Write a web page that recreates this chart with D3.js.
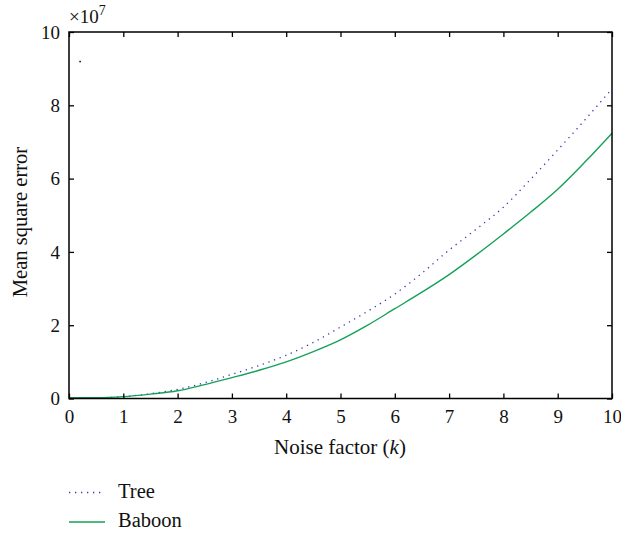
<!DOCTYPE html>
<html>
<head>
<meta charset="utf-8">
<script src="https://cdn.jsdelivr.net/npm/d3@7"></script>
<style>
body { margin: 0; background: #fff; }
svg text { font-family: "Liberation Serif", "DejaVu Serif", serif; fill: #111; }
</style>
</head>
<body>
<svg id="chart" width="621" height="535"></svg>
<script>
const kValues = [0, 0.5, 1, 1.5, 2, 2.5, 3, 3.5, 4, 4.5, 5, 5.5, 6, 6.5, 7, 7.5, 8, 8.5, 9, 9.5, 10];
const treeMSE = [0, 0.01, 0.05, 0.13, 0.25, 0.43, 0.66, 0.9, 1.18, 1.53, 1.95, 2.38, 2.85, 3.42, 4.05, 4.62, 5.22, 5.98, 6.78, 7.6, 8.45];
const baboonMSE = [0.02, 0.02, 0.05, 0.12, 0.21, 0.38, 0.57, 0.77, 1.0, 1.28, 1.6, 2.0, 2.45, 2.9, 3.38, 3.92, 4.49, 5.08, 5.71, 6.45, 7.24];
const xTicks = [0, 1, 2, 3, 4, 5, 6, 7, 8, 9, 10];
const yTicks = [0, 2, 4, 6, 8, 10];
const seriesNames = ["Tree", "Baboon"];

const svg = d3.select("#chart");
const L = 69, R = 612, T = 32, B = 398.5;
const x = d3.scaleLinear().domain([0, 10]).range([L, R]);
const y = d3.scaleLinear().domain([0, 10]).range([B, T]);

const line = d3.line().curve(d3.curveMonotoneX).x(d => x(d[0])).y(d => y(d[1]));
const treeData = kValues.map((k, i) => [k, treeMSE[i]]);
const babData = kValues.map((k, i) => [k, baboonMSE[i]]);

svg.append("path").datum(treeData).attr("d", line)
  .attr("fill", "none").attr("stroke", "#3b3bb0").attr("stroke-width", 1.3)
  .attr("stroke-dasharray", "1.3,4.7");
svg.append("path").datum(babData).attr("d", line)
  .attr("fill", "none").attr("stroke", "#16a05a").attr("stroke-width", 1.4);

// stray mark
svg.append("rect").attr("x", x(0.2) - 0.5).attr("y", y(9.2) - 0.5).attr("width", 1.5).attr("height", 1.5).attr("fill", "#000");

// axes with inward ticks
const tl = 5;
svg.append("g").attr("transform", `translate(0,${B})`)
  .call(d3.axisBottom(x).tickValues(xTicks).tickSize(-tl).tickFormat(d3.format("d")))
  .call(g => g.select(".domain").remove())
  .call(g => g.selectAll(".tick text").attr("y", 24.5).attr("dy", null));
svg.append("g").attr("transform", `translate(0,${T})`)
  .call(d3.axisTop(x).tickValues(xTicks).tickSize(-tl).tickFormat(""))
  .call(g => g.select(".domain").remove());
svg.append("g").attr("transform", `translate(${L},0)`)
  .call(d3.axisLeft(y).tickValues(yTicks).tickSize(-tl).tickFormat(d3.format("d")))
  .call(g => g.select(".domain").remove())
  .call(g => g.selectAll(".tick text").attr("x", -9).attr("dy", "0.33em"));
svg.append("g").attr("transform", `translate(${R},0)`)
  .call(d3.axisRight(y).tickValues(yTicks).tickSize(-tl).tickFormat(""))
  .call(g => g.select(".domain").remove());

svg.selectAll(".tick line").attr("stroke", "#000").attr("stroke-width", 1.3);
svg.selectAll(".tick text").attr("font-size", 19).attr("font-family", "Liberation Serif").attr("fill", "#111");

svg.append("rect").attr("x", L).attr("y", T).attr("width", R - L).attr("height", B - T)
  .attr("fill", "none").attr("stroke", "#000").attr("stroke-width", 1.5);

// exponent label
const ex = svg.append("text").attr("x", 69).attr("y", 23).attr("font-size", 19);
ex.append("tspan").text("×10");
ex.append("tspan").attr("dy", -8).attr("font-size", 14).text("7");

// axis titles
const xt = svg.append("text").attr("x", 340).attr("y", 454).attr("text-anchor", "middle").attr("font-size", 21);
xt.append("tspan").text("Noise factor (");
xt.append("tspan").attr("font-style", "italic").text("k");
xt.append("tspan").text(")");

svg.append("text").attr("transform", `translate(27,222) rotate(-90)`)
  .attr("text-anchor", "middle").attr("font-size", 20.5).text("Mean square error");

// legend
const leg = [{ name: seriesNames[0], dash: "1.3,4.7", color: "#3b3bb0", y: 492.5 },
             { name: seriesNames[1], dash: null, color: "#16a05a", y: 522 }];
leg.forEach(d => {
  svg.append("line").attr("x1", 69).attr("x2", 105).attr("y1", d.y).attr("y2", d.y)
    .attr("stroke", d.color).attr("stroke-width", 1.3).attr("stroke-dasharray", d.dash);
  svg.append("text").attr("x", 118).attr("y", d.y + 5).attr("font-size", 20.5).text(d.name);
});
</script>
</body>
</html>
